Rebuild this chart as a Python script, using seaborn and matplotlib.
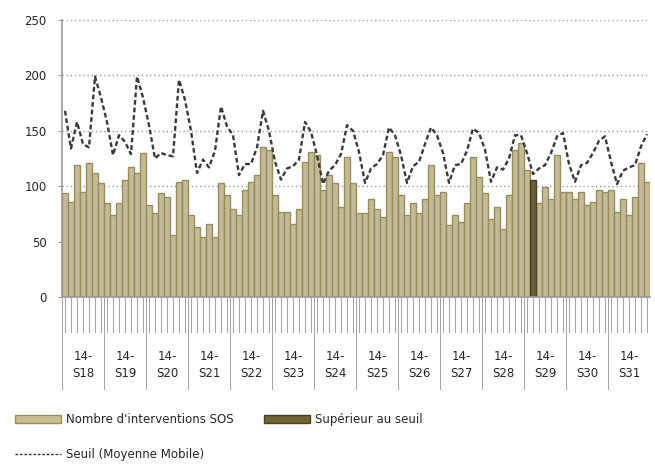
import numpy as np
import pandas as pd
import seaborn as sns
import matplotlib.pyplot as plt
from matplotlib.lines import Line2D
from matplotlib.patches import Patch

# semaines affichées
semaines = ["S18", "S19", "S20", "S21", "S22", "S23", "S24",
            "S25", "S26", "S27", "S28", "S29", "S30", "S31"]

# nombre d'interventions SOS par jour (7 jours par semaine)
interventions = [
    94, 86, 119, 95, 121, 112, 103,
    85, 74, 85, 106, 117, 112, 130,
    83, 76, 94, 90, 56, 104, 106,
    74, 63, 54, 66, 54, 103, 92,
    79, 74, 97, 104, 110, 135, 133,
    92, 77, 77, 66, 79, 122, 131,
    128, 97, 110, 103, 81, 126, 103,
    76, 76, 88, 79, 72, 131, 126,
    92, 74, 85, 76, 88, 119, 92,
    95, 65, 74, 68, 85, 126, 108,
    94, 70, 81, 61, 92, 133, 139,
    115, 106, 85, 99, 88, 128, 95,
    95, 88, 95, 83, 86, 97, 95,
    97, 77, 88, 74, 90, 121, 104,
]

# seuil (moyenne mobile)
seuil = [
    168, 134, 158, 138, 135, 199, 180,
    158, 128, 146, 140, 129, 199, 180,
    155, 125, 130, 128, 127, 196, 178,
    150, 112, 124, 117, 132, 172, 154,
    146, 110, 120, 120, 135, 168, 150,
    122, 106, 116, 118, 124, 158, 149,
    128, 102, 114, 119, 129, 155, 150,
    131, 103, 116, 120, 128, 153, 146,
    128, 103, 118, 122, 138, 153, 146,
    130, 103, 119, 120, 132, 152, 148,
    133, 104, 117, 115, 125, 146, 146,
    130, 111, 116, 119, 130, 145, 148,
    120, 104, 119, 121, 130, 141, 145,
    122, 102, 114, 117, 119, 136, 147,
]

# jours marqués "supérieur au seuil"
jours_superieur = [78]

lab_sos = "Nombre d'interventions SOS"
lab_sup = "Supérieur au seuil"
lab_seuil = "Seuil (Moyenne Mobile)"

c_clair, c_clair_bord = "#C9BE92", "#9A8E58"
c_fonce, c_fonce_bord = "#6F6434", "#4A421F"

n = len(interventions)
df = pd.DataFrame({"jour": np.arange(n), "valeur": interventions})
df["type"] = [lab_sup if j in jours_superieur else lab_sos for j in df["jour"]]

sns.set_style("white")
plt.rcParams["font.family"] = ["DejaVu Sans"]

fig = plt.figure(figsize=(6.55, 4.68), dpi=100)
ax = fig.add_axes([62 / 655, 1 - 297 / 468, 588 / 655, 277 / 468])
# zone sous l'axe pour les traits des jours et les libellés des semaines
axb = fig.add_axes([62 / 655, 1 - 392 / 468, 588 / 655, 95 / 468])

sns.barplot(data=df, x="jour", y="valeur", hue="type", dodge=False,
            palette={lab_sos: c_clair, lab_sup: c_fonce}, width=1.0,
            linewidth=1.0, legend=False, ax=ax)
for p in ax.patches:
    fc = p.get_facecolor()
    p.set_edgecolor(c_fonce_bord if fc[0] < 0.6 else c_clair_bord)

sns.lineplot(x=np.arange(len(seuil)), y=seuil, color="#3a3a3a", lw=1.7,
             dashes=False, ax=ax)
ax.lines[-1].set_dashes((2.0, 1.2))

ax.set_ylim(0, 250)
ax.set_xlim(-0.5, n - 0.5)
ax.set_yticks(np.arange(0, 251, 50))
ax.yaxis.grid(True, ls=(0, (1, 2)), color="#999999", lw=1.0)
ax.set_axisbelow(True)
ax.set_xlabel("")
ax.set_ylabel("")
ax.set_xticks([])

for s in ["top", "right"]:
    ax.spines[s].set_visible(False)
for s in ["left", "bottom"]:
    ax.spines[s].set_color("#9a9a9a")
    ax.spines[s].set_linewidth(1.2)
ax.tick_params(axis="y", left=True, length=3, color="#9a9a9a", pad=8, labelsize=8.5)

axb.set_xlim(-0.5, n - 0.5)
axb.set_ylim(-95, 0)
axb.axis("off")
axb.vlines(np.arange(n), -35, 0, colors="#a4a4a4", lw=0.72, antialiased=False)
axb.vlines(np.arange(-0.5, n, 7), -92, 0, colors="#a4a4a4", lw=0.72,
           antialiased=False)
for k, s in enumerate(semaines):
    axb.text(7 * k + 3, -68, "14-\n" + s, ha="center", va="center",
             fontsize=8.5, linespacing=1.35)

handles = [
    Patch(facecolor=c_clair, edgecolor=c_clair_bord, label=lab_sos),
    Line2D([0], [0], color="#3a3a3a", lw=1.0, dashes=(2.0, 1.2), label=lab_seuil),
    Patch(facecolor=c_fonce, edgecolor=c_fonce_bord, label=lab_sup),
]
fig.legend(handles=handles, ncol=2, loc="upper left",
           bbox_to_anchor=(15 / 655, 1 - 413 / 468), frameon=False,
           fontsize=8.5, handlelength=3.9, handleheight=0.6,
           handletextpad=0.4, columnspacing=2.6, labelspacing=1.9,
           borderpad=0, borderaxespad=0)

plt.savefig("out.png", dpi=100)
